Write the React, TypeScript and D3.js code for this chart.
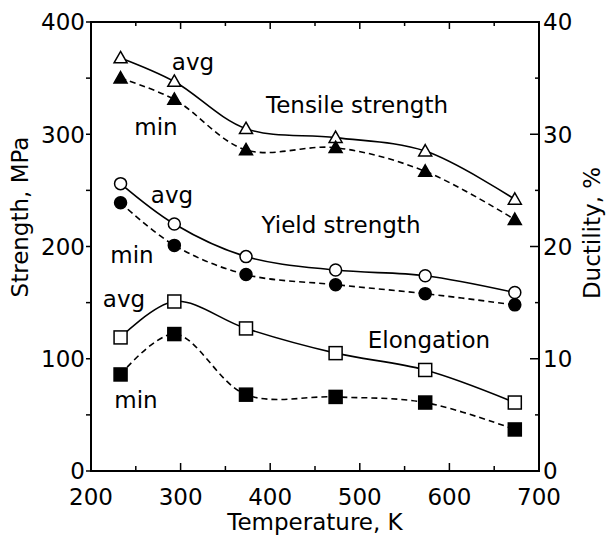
import * as d3 from "d3";

// temperatures of the test points (K)
const temps = [233, 293, 373, 473, 573, 673];

// strength, MPa (left axis)
const tensileAvg = [368, 347, 305, 297, 285, 242];
const tensileMin = [350, 331, 286, 288, 267, 224];
const yieldAvg = [256, 220, 191, 179, 174, 159];
const yieldMin = [239, 201, 175, 166, 158, 148];

// ductility, % (right axis)
const elongAvg = [11.9, 15.1, 12.7, 10.5, 9.0, 6.1];
const elongMin = [8.6, 12.2, 6.8, 6.6, 6.1, 3.7];

const W = 607;
const H = 537;
const left = 91;
const right = 539;
const top = 22;
const bottom = 471;
const font = "'DejaVu Sans', sans-serif";
const fs = 23;

const x = d3.scaleLinear().domain([200, 700]).range([left, right]);
const yL = d3.scaleLinear().domain([0, 400]).range([bottom, top]);
const yR = d3.scaleLinear().domain([0, 40]).range([bottom, top]);

const line = (vals: number[], y: d3.ScaleLinear<number, number>) =>
    d3
        .line<number>()
        .x((_, i) => x(temps[i]))
        .y((d) => y(d))
        .curve(d3.curveCatmullRom.alpha(0.5))(vals) as string;

const Marker = ({ shape, filled, cx, cy }) => {
    const fill = filled ? "#000" : "#fff";
    const common = { fill, stroke: "#000", strokeWidth: 1.5 };
    if (shape === "tri") {
        const s = 6.5;
        return (
            <path
                d={`M${cx},${cy - s}L${cx + s},${cy + s * 0.75}L${cx - s},${cy + s * 0.75}Z`}
                {...common}
            />
        );
    }
    if (shape === "circle") return <circle cx={cx} cy={cy} r={6} {...common} />;
    return <rect x={cx - 6.5} y={cy - 6.5} width={13} height={13} {...common} />;
};

const series = [
    { vals: tensileAvg, y: yL, shape: "tri", filled: false, dash: null },
    { vals: tensileMin, y: yL, shape: "tri", filled: true, dash: "6,4" },
    { vals: yieldAvg, y: yL, shape: "circle", filled: false, dash: null },
    { vals: yieldMin, y: yL, shape: "circle", filled: true, dash: "6,4" },
    { vals: elongAvg, y: yR, shape: "square", filled: false, dash: null },
    { vals: elongMin, y: yR, shape: "square", filled: true, dash: "6,4" },
];

const labels = [
    { t: "avg", x: 193, y: 70 },
    { t: "min", x: 156, y: 135 },
    { t: "Tensile strength", x: 357, y: 113 },
    { t: "avg", x: 172, y: 203 },
    { t: "min", x: 132, y: 263 },
    { t: "Yield strength", x: 341, y: 233 },
    { t: "avg", x: 124, y: 307 },
    { t: "min", x: 136, y: 408 },
    { t: "Elongation", x: 429, y: 348 },
];

export default function App() {
    const xTicks = x.ticks(10);
    const yLTicks = yL.ticks(8);
    const yRTicks = yR.ticks(8);
    return (
        <svg
            width={W}
            height={H}
            style={{ position: "absolute", left: 0, top: 0, background: "#fff" }}
            fontFamily={font}
        >
            {/* frame */}
            <rect x={left} y={top} width={right - left} height={bottom - top} fill="none" stroke="#000" strokeWidth={2} />

            {/* x ticks, bottom and top, inward */}
            {xTicks.map((t) => {
                const major = t % 100 === 0;
                return (
                    <g key={"x" + t}>
                        <line x1={x(t)} x2={x(t)} y1={bottom} y2={bottom - (major ? 8 : 5)} stroke="#000" strokeWidth={1.5} />
                        <line x1={x(t)} x2={x(t)} y1={top} y2={top + (major ? 7 : 4)} stroke="#000" strokeWidth={1.5} />
                        {major && (
                            <text x={x(t)} y={505} textAnchor="middle" fontSize={fs}>
                                {t}
                            </text>
                        )}
                    </g>
                );
            })}

            {/* left axis ticks, outward */}
            {yLTicks.map((t) => (
                <g key={"yl" + t}>
                    <line x1={left} x2={left - 5} y1={yL(t)} y2={yL(t)} stroke="#000" strokeWidth={1.5} />
                    {t % 100 === 0 && (
                        <text x={85} y={yL(t)} dy="0.36em" textAnchor="end" fontSize={fs}>
                            {t}
                        </text>
                    )}
                </g>
            ))}

            {/* right axis ticks, inward */}
            {yRTicks.map((t) => {
                const major = t % 10 === 0;
                return (
                    <g key={"yr" + t}>
                        <line x1={right} x2={right - (major ? 9 : 4)} y1={yR(t)} y2={yR(t)} stroke="#000" strokeWidth={1.5} />
                        {major && (
                            <text x={543} y={yR(t)} dy="0.36em" textAnchor="start" fontSize={fs}>
                                {t}
                            </text>
                        )}
                    </g>
                );
            })}

            {/* axis titles */}
            <text x={(left + right) / 2} y={530} textAnchor="middle" fontSize={fs}>
                Temperature, K
            </text>
            <text transform="translate(28,217) rotate(-90)" textAnchor="middle" fontSize={fs}>
                Strength, MPa
            </text>
            <text transform="translate(600,233) rotate(-90)" textAnchor="middle" fontSize={fs}>
                Ductility, %
            </text>

            {/* curves */}
            {series.map((s, i) => (
                <path
                    key={"l" + i}
                    d={line(s.vals, s.y)}
                    fill="none"
                    stroke="#000"
                    strokeWidth={1.6}
                    strokeDasharray={s.dash ?? undefined}
                />
            ))}

            {/* markers */}
            {series.map((s, i) =>
                s.vals.map((v, j) => (
                    <Marker key={`m${i}-${j}`} shape={s.shape} filled={s.filled} cx={x(temps[j])} cy={s.y(v)} />
                ))
            )}

            {/* annotations */}
            {labels.map((l, i) => (
                <text key={"t" + i} x={l.x} y={l.y} textAnchor="middle" fontSize={fs}>
                    {l.t}
                </text>
            ))}
        </svg>
    );
}
